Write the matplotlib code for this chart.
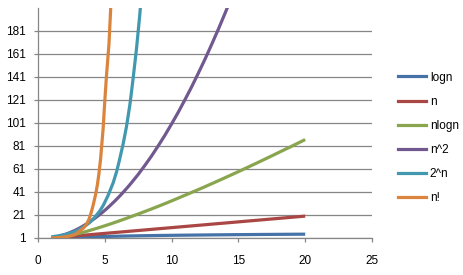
import matplotlib
matplotlib.use("Agg")
import matplotlib.pyplot as plt
from matplotlib.path import Path
from matplotlib.patches import PathPatch
from matplotlib.lines import Line2D

# ---- data ----
n_vals = list(range(1, 21))
logn = [0, 1, 1.58, 2, 2.32, 2.58, 2.81, 3, 3.17, 3.32, 3.46, 3.58, 3.70, 3.81, 3.91, 4, 4.09, 4.17, 4.25, 4.32]
lin = [1, 2, 3, 4, 5, 6, 7, 8, 9, 10, 11, 12, 13, 14, 15, 16, 17, 18, 19, 20]
nlogn = [0, 2, 4.75, 8, 11.6, 15.5, 19.7, 24, 28.5, 33.2, 38.1, 43.0, 48.1, 53.3, 58.6, 64, 69.5, 75.1, 80.7, 86.4]
nsq = [1, 4, 9, 16, 25, 36, 49, 64, 81, 100, 121, 144, 169, 196, 225, 256, 289, 324, 361, 400]
pow2 = [2, 4, 8, 16, 32, 64, 128, 256, 512, 1024]          # beyond this, far off the axis
fact = [1, 2, 6, 24, 120, 720, 5040]                      # beyond this, far off the axis

series_names = ["logn", "n", "nlogn", "n^2", "2^n", "n!"]
series_vals = [logn, lin, nlogn, nsq, pow2, fact]
colors = ["#4572A7", "#AA4643", "#89A54E", "#71588F", "#4198AF", "#DB843D"]

x_ticks = [0, 5, 10, 15, 20, 25]
y_ticks = [1, 21, 41, 61, 81, 101, 121, 141, 161, 181]

plt.rcParams['font.family'] = ['Liberation Sans', 'DejaVu Sans']

fig = plt.figure(figsize=(4.64, 2.75), dpi=100)
ax = fig.add_axes([38/464, 1 - 238/275, (372 - 38)/464, (238 - 7.5)/275])


def smooth_path(xs, ys):
    """Monotone (Fritsch-Carlson) cubic Bezier through the data points."""
    m = len(xs)
    d = [(ys[k + 1] - ys[k]) / (xs[k + 1] - xs[k]) for k in range(m - 1)]
    t = [0.0] * m
    t[0] = d[0]
    t[-1] = d[-1]
    for k in range(1, m - 1):
        t[k] = 0.0 if d[k - 1] * d[k] <= 0 else (d[k - 1] + d[k]) / 2
    for k in range(m - 1):
        if d[k] == 0:
            t[k] = t[k + 1] = 0.0
            continue
        a, b = t[k] / d[k], t[k + 1] / d[k]
        s = a * a + b * b
        if s > 9:
            tau = 3 / s ** 0.5
            t[k] = tau * a * d[k]
            t[k + 1] = tau * b * d[k]
    verts = [(xs[0], ys[0])]
    codes = [Path.MOVETO]
    for k in range(m - 1):
        h = xs[k + 1] - xs[k]
        verts += [(xs[k] + h / 3, ys[k] + t[k] * h / 3),
                  (xs[k + 1] - h / 3, ys[k + 1] - t[k + 1] * h / 3),
                  (xs[k + 1], ys[k + 1])]
        codes += [Path.CURVE4] * 3
    return Path(verts, codes)


handles = []
for name, vals, c in zip(series_names, series_vals, colors):
    xs = n_vals[:len(vals)]
    patch = PathPatch(smooth_path(xs, vals), facecolor='none', edgecolor=c,
                      lw=2.3, transform=ax.transData, clip_on=True, zorder=3)
    ax.add_patch(patch)
    handles.append(Line2D([], [], color=c, lw=2.3))

ax.set_xlim(0, 25)
ax.set_ylim(1, 201)
ax.set_xticks(x_ticks)
ax.set_yticks(y_ticks)

ax.grid(axis='y', color='#868686', lw=0.9, zorder=0)
for s in ['top', 'right']:
    ax.spines[s].set_visible(False)
for s in ['left', 'bottom']:
    ax.spines[s].set_color('#868686')
    ax.spines[s].set_linewidth(0.9)
ax.tick_params(axis='both', colors='#868686', labelcolor='black', labelsize=8.5,
               length=3, width=0.9, direction='out')
ax.tick_params(axis='x', pad=9.5)
ax.tick_params(axis='y', pad=6)

ax.legend(handles, series_names, loc='center left',
          bbox_to_anchor=(398/464, 1 - 138/275), bbox_transform=fig.transFigure,
          frameon=False, fontsize=8.5, handlelength=2.4, handletextpad=0.3,
          labelspacing=1.03, borderpad=0, borderaxespad=0)

fig.savefig("out.png", dpi=100)
